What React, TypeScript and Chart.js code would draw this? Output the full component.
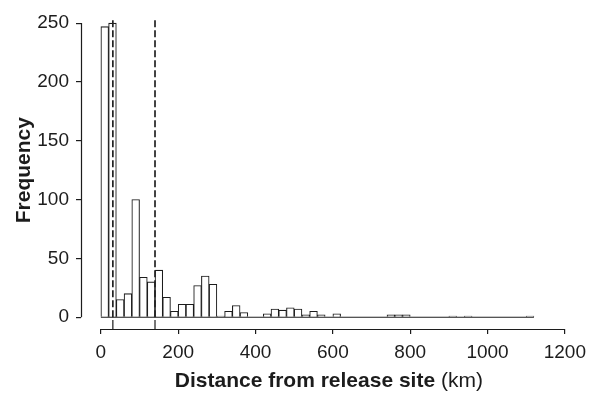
import React, { useEffect, useRef } from "react";
import { Chart, registerables } from "chart.js";

Chart.register(...registerables);

const binWidth = 20;
const binStarts = [
  0, 20, 40, 60, 80, 100, 120, 140, 160, 180, 200, 220, 240, 260, 280, 300, 320, 340, 360, 380,
  400, 420, 440, 460, 480, 500, 520, 540, 560, 580, 600, 620, 640, 660, 680, 700, 720, 740, 760, 780,
  800, 820, 840, 860, 880, 900, 920, 940, 960, 980, 1000, 1020, 1040, 1060, 1080, 1100,
];
const frequencies = [
  247, 250, 15, 20, 100, 34, 30, 40, 17, 5, 11, 11, 27, 35, 28, 1, 5, 10, 4, 0,
  0, 3, 7, 6, 8, 7, 2, 5, 2, 0, 3, 0, 0, 0, 0, 0, 0, 2, 2, 2,
  0, 0, 0, 0, 0, 1, 0, 1, 0, 0, 0, 0, 0, 0, 0, 1,
];
const dashedLines = [31, 140];
const xTicks = [0, 200, 400, 600, 800, 1000, 1200];
const yTicks = [0, 50, 100, 150, 200, 250];
const yTitle = "Frequency";
const xTitleBold = "Distance from release site";
const xTitleNormal = " (km)";

const FONT = "'Liberation Sans', Arial, Helvetica, sans-serif";
const INK = "#1c1c1c";

const axesPlugin = {
  id: "rAxes",
  afterDraw(chart: any) {
    const { ctx, chartArea, scales } = chart;
    const xs = scales.x;
    const ys = scales.y;
    ctx.save();
    ctx.strokeStyle = INK;
    ctx.lineWidth = 1.2;
    ctx.beginPath();
    ctx.moveTo(chartArea.left + 0.5, ys.getPixelForValue(yTicks[0]));
    ctx.lineTo(chartArea.left + 0.5, ys.getPixelForValue(yTicks[yTicks.length - 1]));
    ctx.stroke();
    ctx.beginPath();
    ctx.moveTo(xs.getPixelForValue(xTicks[0]), chartArea.bottom + 0.5);
    ctx.lineTo(xs.getPixelForValue(xTicks[xTicks.length - 1]), chartArea.bottom + 0.5);
    ctx.stroke();
    for (const v of dashedLines) {
      const px = xs.getPixelForValue(v);
      ctx.beginPath();
      ctx.moveTo(px, chartArea.bottom);
      ctx.lineTo(px, chartArea.bottom - 9);
      ctx.stroke();
    }
    ctx.fillStyle = INK;
    ctx.textBaseline = "alphabetic";
    ctx.font = `bold 21px ${FONT}`;
    const wBold = ctx.measureText(xTitleBold).width;
    ctx.font = `21px ${FONT}`;
    const wNorm = ctx.measureText(xTitleNormal).width;
    const cx = (xs.getPixelForValue(xTicks[0]) + xs.getPixelForValue(xTicks[xTicks.length - 1])) / 2 - 4;
    const startX = cx - (wBold + wNorm) / 2;
    const baseY = 387;
    ctx.textAlign = "left";
    ctx.font = `bold 21px ${FONT}`;
    ctx.fillText(xTitleBold, startX, baseY);
    ctx.font = `21px ${FONT}`;
    ctx.fillText(xTitleNormal, startX + wBold, baseY);

    ctx.translate(30, (ys.getPixelForValue(0) + ys.getPixelForValue(250)) / 2);
    ctx.rotate(-Math.PI / 2);
    ctx.textAlign = "center";
    ctx.font = `bold 21px ${FONT}`;
    ctx.fillText(yTitle, 0, 0);
    ctx.restore();
  },
};

export default function App() {
  const ref = useRef<HTMLCanvasElement | null>(null);
  useEffect(() => {
    if (!ref.current) return;
    const barData = binStarts.map((s, i) => ({ x: s + binWidth / 2, y: frequencies[i] }));
    const lineSets = dashedLines.map((v) => ({
      type: "line" as const,
      data: [
        { x: v, y: 0 },
        { x: v, y: 253.5 },
      ],
      borderColor: "#222222",
      borderWidth: 1.7,
      borderDash: [7, 3],
      pointRadius: 0,
      order: -1,
    }));
    const baseline = {
      type: "line" as const,
      data: [
        { x: binStarts[0], y: 0 },
        { x: binStarts[binStarts.length - 1] + binWidth, y: 0 },
      ],
      borderColor: INK,
      borderWidth: 1.2,
      pointRadius: 0,
      order: 0,
    };
    const chart = new Chart(ref.current, {
      type: "bar",
      data: {
        datasets: [
          ...lineSets,
          baseline,
          {
            type: "bar" as const,
            data: barData,
            backgroundColor: "#ffffff",
            borderColor: INK,
            borderWidth: 1.1,
            barPercentage: 1,
            categoryPercentage: 1,
            order: 1,
          } as any,
        ],
      },
      plugins: [axesPlugin],
      options: {
        responsive: false,
        animation: false,
        layout: { padding: { top: 12, right: 25, left: 0, bottom: 0 } },
        plugins: { legend: { display: false }, tooltip: { enabled: false } },
        scales: {
          x: {
            type: "linear",
            offset: false,
            min: -51.4,
            max: 1200,
            afterBuildTicks: (s: any) => {
              s.ticks = xTicks.map((v) => ({ value: v }));
            },
            afterFit: (s: any) => {
              s.height = 65;
            },
            border: { display: false },
            grid: { offset: false, drawOnChartArea: false, drawTicks: true, tickLength: 5, color: INK, lineWidth: 1.2 },
            ticks: {
              font: { family: FONT, size: 19 },
              color: INK,
              padding: 7,
              maxRotation: 0,
              autoSkip: false,
              callback: (v: any) => String(v),
            },
          },
          y: {
            type: "linear",
            min: -10,
            max: 254,
            afterBuildTicks: (s: any) => {
              s.ticks = yTicks.map((v) => ({ value: v }));
            },
            afterFit: (s: any) => {
              s.width = 81;
            },
            border: { display: false },
            grid: { drawOnChartArea: false, drawTicks: true, tickLength: 5, color: INK, lineWidth: 1.2 },
            ticks: { font: { family: FONT, size: 19 }, color: INK, padding: 7, callback: (v: any) => String(v) },
          },
        },
      } as any,
    });
    return () => chart.destroy();
  }, []);
  return (
    <div style={{ position: "fixed", left: 0, top: 0, width: 593, height: 394, background: "#fff" }}>
      <canvas ref={ref} width={593} height={394} />
    </div>
  );
}
